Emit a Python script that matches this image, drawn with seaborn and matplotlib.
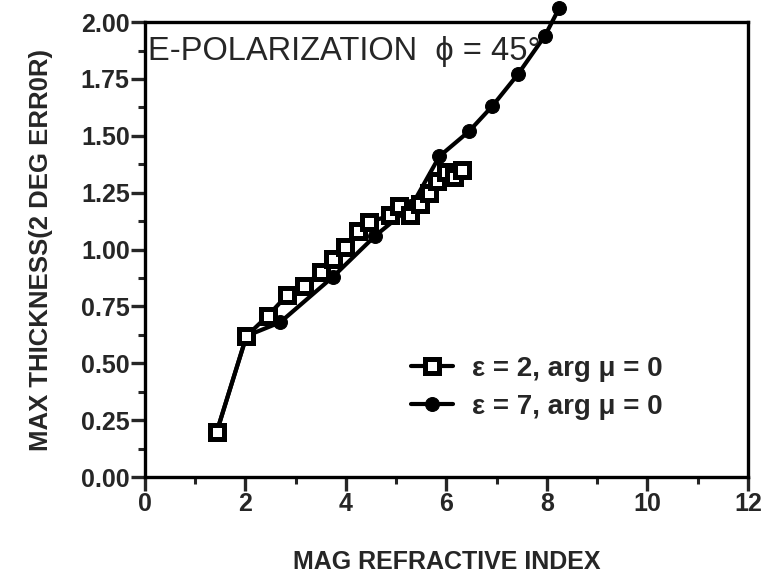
"""Max thickness vs. magnitude of refractive index, E-polarization, phi = 45 deg."""

import matplotlib

matplotlib.use("Agg")
import matplotlib.pyplot as plt
import pandas as pd
import seaborn as sns
from matplotlib.ticker import MultipleLocator

# eps = 2, arg mu = 0 (square markers)
eps2_index = [1.43, 2.02, 2.45, 2.83, 3.16, 3.50, 3.74, 3.98, 4.24, 4.46,
              4.88, 5.05, 5.27, 5.47, 5.65, 5.81, 5.99, 6.15, 6.31]
eps2_thick = [0.20, 0.62, 0.71, 0.80, 0.84, 0.90, 0.96, 1.01, 1.08, 1.12,
              1.15, 1.19, 1.15, 1.20, 1.25, 1.30, 1.34, 1.32, 1.35]

# eps = 7, arg mu = 0 (filled circle markers)
eps7_index = [1.43, 2.02, 2.69, 3.74, 4.58, 5.30, 5.86, 6.45, 6.91, 7.42, 7.96, 8.24]
eps7_thick = [0.20, 0.62, 0.68, 0.88, 1.06, 1.19, 1.41, 1.52, 1.63, 1.77, 1.94, 2.06]

labels = ["ε = 2, arg μ = 0", "ε = 7, arg μ = 0"]

sns.set_style("ticks")
plt.rcParams["font.family"] = ["Liberation Sans", "DejaVu Sans"]

fig = plt.figure(figsize=(7.7, 5.81), dpi=100)
ax = fig.add_axes([0.1883, 0.179, 0.7831, 0.783])

df2 = pd.DataFrame({"index": eps2_index, "thick": eps2_thick})
df7 = pd.DataFrame({"index": eps7_index, "thick": eps7_thick})

sns.lineplot(data=df7, x="index", y="thick", ax=ax, color="black", lw=3.0,
             marker="o", markersize=10, markerfacecolor="black",
             markeredgecolor="black", estimator=None, sort=False,
             label=labels[1], clip_on=False, zorder=3)
sns.lineplot(data=df2, x="index", y="thick", ax=ax, color="black", lw=3.0,
             marker="s", markersize=10, markerfacecolor="white",
             markeredgecolor="black", markeredgewidth=3.6, estimator=None,
             sort=False, label=labels[0], zorder=4)

ax.set_xlim(0, 12)
ax.set_ylim(0, 2.0)
ax.xaxis.set_major_locator(MultipleLocator(2))
ax.xaxis.set_minor_locator(MultipleLocator(1))
ax.yaxis.set_major_locator(MultipleLocator(0.25))
ax.yaxis.set_minor_locator(MultipleLocator(0.125))
ax.yaxis.set_major_formatter(plt.FormatStrFormatter("%.2f"))

for side in ["left", "right", "top", "bottom"]:
    ax.spines[side].set_linewidth(2.4)
    ax.spines[side].set_color("black")

ax.tick_params(which="major", direction="out", length=10, width=2.4,
               labelsize=18, pad=1)
ax.tick_params(which="minor", direction="out", length=5, width=2.2)
for lab in ax.get_xticklabels() + ax.get_yticklabels():
    lab.set_fontweight("bold")

ax.set_xlabel("MAG REFRACTIVE INDEX", fontsize=18, fontweight="heavy",
              labelpad=24)
ax.set_ylabel("MAX THICKNESS(2 DEG ERR0R)", fontsize=18.5, fontweight="heavy",
              labelpad=20)

ax.text(0.05, 1.87, "E-POLARIZATION  ϕ = 45°", fontsize=23.5,
        ha="left", va="center")

handles, labs = ax.get_legend_handles_labels()
order = [labs.index(labels[0]), labs.index(labels[1])]
ax.legend([handles[i] for i in order], [labs[i] for i in order],
          loc="lower right", bbox_to_anchor=(0.9, 0.07), frameon=False,
          prop={"size": 20, "weight": "heavy"}, handlelength=1.5,
          handletextpad=0.7, labelspacing=0.45)

fig.savefig("out.png", dpi=100)
plt.close(fig)
